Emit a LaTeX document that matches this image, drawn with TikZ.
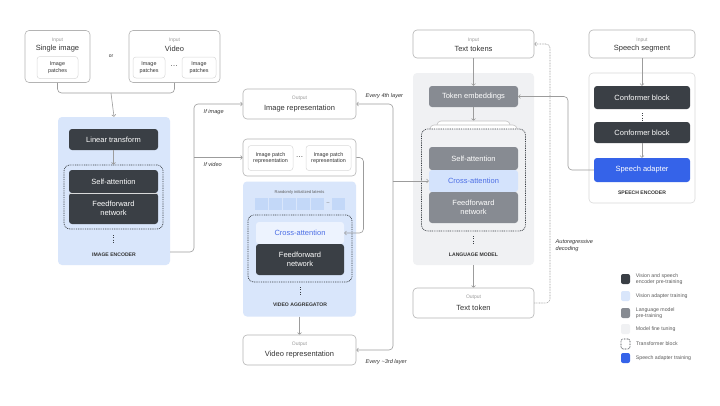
\documentclass[tikz,border=0pt]{standalone}
\usepackage{fontspec}
\setmainfont{Liberation Sans}
\usetikzlibrary{arrows.meta,positioning}

\definecolor{dark}{HTML}{3A3F45}
\definecolor{lmgray}{HTML}{878B92}
\definecolor{lmbg}{HTML}{F0F1F3}
\definecolor{visbg}{HTML}{D9E6FB}
\definecolor{latent}{HTML}{C3D8F8}
\definecolor{crosslm}{HTML}{D4E3FC}
\definecolor{crossvid}{HTML}{EDF3FE}
\definecolor{adapt}{HTML}{3563E9}
\definecolor{bluetxt}{HTML}{4C6EE5}
\definecolor{edge}{HTML}{B4B4B4}
\definecolor{edgelight}{HTML}{DADADA}
\definecolor{wire}{HTML}{9C9C9C}
\definecolor{ink}{HTML}{333333}
\definecolor{taggray}{HTML}{9A9A9A}

\newcommand\blkfont{\fontsize{7.5}{8.6}\selectfont}
\newcommand\tinyfont{\fontsize{5.2}{6.2}\selectfont}

\begin{document}
\begin{tikzpicture}[x=1pt,y=-1pt]
% Styles
\tikzset{
    box/.style={draw=edge, fill=white, rounded corners=4pt, line width=0.6pt, inner sep=0pt},
    region/.style={rounded corners=4pt, inner sep=0pt},
    patch/.style={draw=edgelight, fill=white, rounded corners=3pt, line width=0.5pt, align=center, inner sep=0pt, text=ink, font=\fontsize{5.4}{6.4}\selectfont},
    blk/.style={rounded corners=3pt, inner sep=0pt, align=center, text=white, font=\blkfont},
    darkblk/.style={blk, fill=dark},
    grayblk/.style={blk, fill=lmgray},
    tag/.style={text=taggray, font=\fontsize{5}{6}\selectfont},
    title/.style={text=ink, font=\blkfont},
    part/.style={text=ink, font=\bfseries\fontsize{5.1}{6}\selectfont},
    note/.style={text=ink, align=left, inner sep=0pt, font=\itshape\fontsize{5.6}{6.6}\selectfont},
    trblock/.style={draw=dark, line width=0.7pt, dash pattern=on 0.9pt off 0.9pt, rounded corners=6pt, inner sep=0pt},
    vdots/.style={draw=dark, line width=0.9pt, dash pattern=on 1pt off 1.3pt},
    sep/.style={draw=white!80!dark, line width=0.5pt},
    line/.style={draw=wire, line width=0.6pt, rounded corners=4pt},
    arr/.style={line, -{Straight Barb[length=1.8pt,width=4pt]}},
    legsq/.style={rounded corners=2pt, minimum width=9pt, minimum height=10pt, inner sep=0pt},
    legtxt/.style={text=ink!80, align=left, inner sep=0pt, font=\tinyfont}
}

% Canvas
\fill[white] (0,0) rectangle (720,405);
\useasboundingbox (0,0) rectangle (720,405);

% Inputs
\node[box, minimum width=65pt, minimum height=52pt] (SingleImg) at (57.5,56.5) {};
\node[tag] (SingleImgTag) at (57.5,40) {Input};
\node[title] (SingleImgTitle) at (57.5,48.5) {Single image};
\node[patch, minimum width=41pt, minimum height=22pt] (SinglePatch) at (57.5,67.5) {Image\\patches};
\node[tag, text=ink] (Or) at (111,56) {or};
\node[box, minimum width=91pt, minimum height=52pt] (Video) at (174.5,56.5) {};
\node[tag] (VideoTag) at (174.5,40) {Input};
\node[title] (VideoTitle) at (174.5,48.5) {Video};
\node[patch, minimum width=32pt, minimum height=21pt] (VidPatchA) at (149,67.5) {Image\\patches};
\node[patch, minimum width=34pt, minimum height=21pt] (VidPatchB) at (199,67.5) {Image\\patches};
\node[text=ink, font=\blkfont] (VidDots) at (174,66) {\ldots};

% Image encoder
\node[region, fill=visbg, minimum width=112pt, minimum height=148pt] (ImgEnc) at (114,191) {};
\node[darkblk, minimum width=89pt, minimum height=21pt] (LinTr) at (113.5,139.5) {Linear transform};
\node[trblock, minimum width=99pt, minimum height=64pt] (TrImg) at (113.5,197) {};
\node[darkblk, minimum width=89pt, minimum height=23pt] (SelfImg) at (113.5,181.5) {Self-attention};
\node[darkblk, minimum width=89pt, minimum height=31pt] (FFImg) at (113.5,208.5) {Feedforward\\network};
\draw[sep] (SelfImg.south west) -- (SelfImg.south east);
\draw[vdots] (113.5,235) -- (113.5,244);
\node[part] (ImgEncLbl) at (114,255) {IMAGE ENCODER};

\coordinate (Merge) at (111,93);
\draw[line] (SingleImg.south) |- (Merge) -| (Video.south);
\draw[arr] (Merge) -- (ImgEnc.north);
\draw[arr] (LinTr.south) -- (TrImg.north);

% Image / video outputs
\node[box, minimum width=113pt, minimum height=30pt] (ImgRep) at (299.5,104) {};
\node[tag] (ImgRepTag) at (299.5,98) {Output};
\node[title] (ImgRepTitle) at (299.5,108.5) {Image representation};

\node[box, minimum width=113pt, minimum height=37pt] (PatchGrp) at (299.5,157.5) {};
\node[patch, minimum width=45pt, minimum height=25pt] (PatchA) at (270.5,158) {Image patch\\representation};
\node[patch, minimum width=45pt, minimum height=25pt] (PatchB) at (328.5,158) {Image patch\\representation};
\node[text=ink, font=\blkfont] (PatchDots) at (299.5,157) {\ldots};

\coordinate (EncOut) at (170,252);
\coordinate (Branch) at (194,157.5);
\draw[line] (EncOut) -| (Branch);
\draw[arr] (Branch) |- (ImgRep.west);
\draw[arr] (Branch) -- (PatchGrp.west);
\node[note, anchor=west] (IfImage) at (203.5,112) {If image};
\node[note, anchor=west] (IfVideo) at (203.5,164) {If video};

% Video aggregator
\node[region, fill=visbg, minimum width=113pt, minimum height=135pt] (VidAgg) at (299.5,249) {};
\node[text=ink!80, font=\fontsize{4.1}{5}\selectfont] (LatentLbl) at (299.5,192) {Randomly initialized latents};
\foreach \x [count=\i] in {255,269,283,297,311,332}
    \fill[latent] (\x,198) rectangle ++(12.5,12) coordinate (Lat\i);
\node[text=ink!70, font=\tinyfont] (LatDash) at (328,203.5) {--};
\node[trblock, minimum width=104pt, minimum height=67pt] (TrVid) at (300,248.5) {};
\node[blk, fill=crossvid, text=bluetxt, minimum width=88pt, minimum height=22pt] (CrossVid) at (300,233) {Cross-attention};
\node[darkblk, minimum width=88pt, minimum height=31pt] (FFVid) at (300,259.5) {Feedforward\\network};
\draw[vdots] (300,287) -- (300,296);
\node[part] (VidAggLbl) at (300,305) {VIDEO AGGREGATOR};

\coordinate (VidTurn) at (363.5,195);
\draw[arr] (PatchGrp.east) -| (VidTurn) |- (CrossVid.east);

\node[box, minimum width=113pt, minimum height=30pt] (VidRep) at (299.5,350) {};
\node[tag] (VidRepTag) at (299.5,344.5) {Output};
\node[title] (VidRepTitle) at (299.5,355) {Video representation};
\draw[arr] (VidAgg.south) -- (VidRep.north);

% Language model
\node[box, minimum width=121pt, minimum height=28pt] (TextIn) at (473.5,44) {};
\node[tag] (TextInTag) at (473.5,40) {Input};
\node[title] (TextInTitle) at (473.5,48.5) {Text tokens};

\node[region, fill=lmbg, minimum width=121pt, minimum height=192pt] (LM) at (473.5,169) {};
\node[grayblk, minimum width=89pt, minimum height=21pt] (TokEmb) at (473.5,96.5) {Token embeddings};
\node[box, draw=edge!80, minimum width=73pt, minimum height=20pt] (TabB) at (473.5,131) {};
\node[box, draw=edge!80, minimum width=87pt, minimum height=16pt] (TabA) at (473.5,133) {};
\node[trblock, fill=lmbg, minimum width=104pt, minimum height=102pt] (TrLM) at (473.5,180) {};
\node[grayblk, minimum width=89pt, minimum height=23pt] (SelfLM) at (473.5,158.5) {Self-attention};
\node[blk, fill=crosslm, text=bluetxt, minimum width=89pt, minimum height=22pt] (CrossLM) at (473.5,181) {Cross-attention};
\node[grayblk, minimum width=89pt, minimum height=31pt] (FFLM) at (473.5,207.5) {Feedforward\\network};
\draw[vdots] (473.5,236) -- (473.5,245);
\node[part] (LMLbl) at (473.5,255) {LANGUAGE MODEL};

\draw[arr] (TextIn.south) -- (TokEmb.north);
\draw[arr] (TokEmb.south) -- (TabB.north);

\node[box, minimum width=121pt, minimum height=30pt] (TextOut) at (473.5,303) {};
\node[tag] (TextOutTag) at (473.5,297.5) {Output};
\node[title] (TextOutTitle) at (473.5,308) {Text token};
\draw[arr] (LM.south) -- (TextOut.north);

% Cross-attention taps
\coordinate (LMTap) at (393,181);
\draw[arr] (LMTap) |- (ImgRep.east);
\draw[arr] (LMTap) |- (VidRep.east);
\draw[arr] (LMTap) -- (CrossLM.west);
\node[note, anchor=west] (Every4) at (365.5,96) {Every 4th layer};
\node[note, anchor=west] (Every3) at (365.5,362) {Every \textasciitilde3rd layer};

% Autoregressive decoding
\coordinate (ARTurn) at (550,170);
\draw[arr, dash pattern=on 0.8pt off 0.8pt] (TextOut.east) -| (ARTurn) |- (TextIn.east);
\node[note, anchor=west] (ARLbl) at (555.5,245.5) {Autoregressive\\decoding};

% Speech encoder
\node[box, minimum width=106pt, minimum height=28pt] (SpeechIn) at (642,44) {};
\node[tag] (SpeechInTag) at (642,40) {Input};
\node[title] (SpeechInTitle) at (642,48.5) {Speech segment};
\node[box, draw=edgelight, minimum width=106pt, minimum height=130pt] (SpEnc) at (642,138) {};
\node[darkblk, minimum width=96pt, minimum height=23pt] (ConfA) at (642,97.5) {Conformer block};
\draw[vdots] (642,113) -- (642,121);
\node[darkblk, minimum width=96pt, minimum height=21pt] (ConfB) at (642,132.5) {Conformer block};
\node[blk, fill=adapt, minimum width=96pt, minimum height=24pt] (Adapter) at (642,170) {Speech adapter};
\node[part] (SpEncLbl) at (642,193) {SPEECH ENCODER};

\draw[arr] (SpeechIn.south) -- (ConfA.north);
\draw[arr] (ConfB.south) -- (Adapter.north);
\coordinate (SpTurn) at (568,130);
\draw[arr] (Adapter.west) -| (SpTurn) |- (TokEmb.east);

% Legend
\foreach \name/\y/\col/\txt in {LegA/279/dark/{Vision and speech\\encoder pre-training},
        LegB/296/visbg/{Vision adapter training},
        LegC/313/lmgray/{Language model\\pre-training},
        LegD/329/lmbg/{Model fine tuning},
        LegF/358/adapt/{Speech adapter training}}{
    \node[legsq, fill=\col] (\name) at (625.5,\y) {};
    \node[legtxt, right=5.5pt of \name] (\name Txt) {\txt};
}
\node[legsq, draw=dark, line width=0.6pt, dash pattern=on 0.8pt off 0.8pt] (LegE) at (625.5,344) {};
\node[legtxt, right=5.5pt of LegE] (LegETxt) {Transformer block};
\end{tikzpicture}
\end{document}
